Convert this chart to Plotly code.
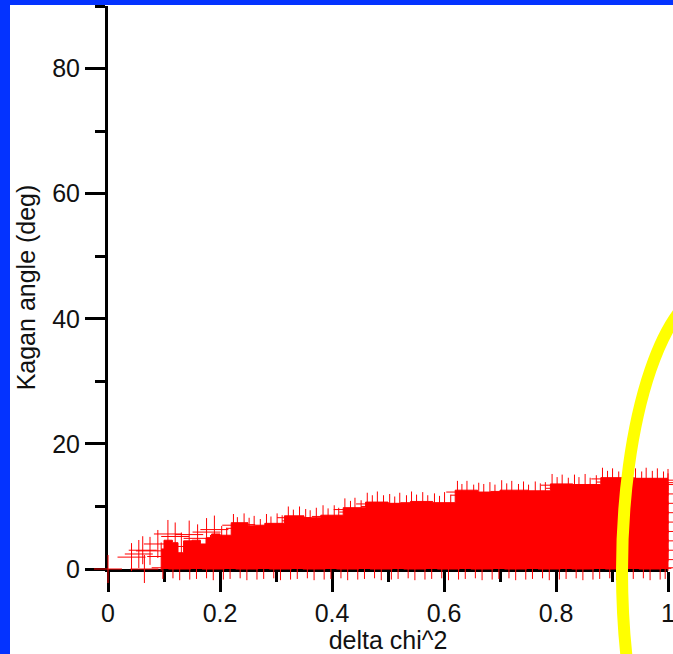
import plotly.graph_objects as go

# ---------------- data ----------------
# step envelope (upper edge) of the dense cloud of solutions
env_dchi2 = [0.095, 0.100, 0.115, 0.125, 0.135, 0.150, 0.165, 0.175, 0.185, 0.200,
             0.220, 0.250, 0.280, 0.315, 0.350, 0.380, 0.420, 0.460, 0.500, 0.540,
             0.580, 0.620, 0.660, 0.700, 0.750, 0.790, 0.830, 0.880, 0.940, 1.000]
env_kagan = [3.2, 4.6, 4.2, 2.6, 4.5, 4.6, 4.0, 5.0, 5.6, 5.4,
             7.4, 6.9, 7.3, 8.5, 8.2, 8.6, 9.8, 10.7, 10.5, 10.8,
             10.6, 12.6, 12.3, 12.6, 12.5, 13.6, 13.5, 14.6, 14.5, 14.6]

# isolated solutions at small delta chi^2
sparse_dchi2 = [0.0, 0.042, 0.055, 0.062, 0.065, 0.075, 0.089, 0.095, 0.107, 0.120,
                0.131, 0.145, 0.160, 0.176, 0.190, 0.183]
sparse_kagan = [0.0, 1.9, 2.4, 3.0, 0.0, 2.9, 4.0, 2.0, 5.6, 5.2,
                3.6, 5.5, 4.9, 5.9, 6.3, 3.2]

# solutions along the upper edge of the cloud
edge_dchi2 = [0.203, 0.212, 0.224, 0.231, 0.243, 0.252, 0.261, 0.272, 0.283, 0.291,
              0.302, 0.311, 0.322, 0.331, 0.342, 0.353, 0.361, 0.372, 0.384, 0.393,
              0.404, 0.412, 0.423, 0.433, 0.441, 0.452, 0.463, 0.472, 0.481, 0.492,
              0.503, 0.512, 0.521, 0.533, 0.542, 0.551, 0.562, 0.571, 0.583, 0.592,
              0.601, 0.612, 0.624, 0.632, 0.641, 0.653, 0.662, 0.671, 0.682, 0.691,
              0.703, 0.712, 0.721, 0.733, 0.742, 0.751, 0.763, 0.772, 0.781, 0.793,
              0.802, 0.811, 0.822, 0.833, 0.841, 0.852, 0.861, 0.872, 0.883, 0.892,
              0.901, 0.912, 0.923, 0.931, 0.942, 0.953, 0.961, 0.972, 0.981, 0.992, 1.000]
edge_kagan = [5.1, 4.8, 7.0, 6.5, 7.1, 6.4, 6.7, 6.2, 7.0, 6.6,
              7.1, 6.8, 8.2, 7.7, 8.2, 7.8, 7.6, 8.0, 8.4, 7.9,
              8.4, 8.0, 9.5, 9.1, 9.6, 9.2, 10.4, 10.0, 10.6, 10.0,
              10.2, 9.8, 10.4, 10.0, 10.6, 10.1, 10.5, 10.0, 10.3, 9.9,
              10.5, 10.1, 12.3, 11.8, 12.3, 11.7, 12.0, 11.8, 12.1, 11.7,
              12.4, 11.9, 12.3, 11.8, 12.2, 11.7, 12.2, 11.9, 12.1, 13.4,
              12.9, 13.3, 12.8, 13.3, 12.9, 13.4, 12.8, 13.2, 14.4, 13.9,
              14.3, 13.8, 14.4, 13.9, 14.3, 13.8, 14.4, 13.9, 14.3, 13.8, 14.2]

# solutions with near-zero Kagan angle
low_dchi2 = [0.098, 0.107, 0.116, 0.128, 0.137, 0.146, 0.158, 0.167, 0.176, 0.188,
             0.197, 0.206, 0.218, 0.227, 0.236, 0.248, 0.257, 0.266, 0.278, 0.287,
             0.296, 0.308, 0.317, 0.326, 0.338, 0.347, 0.356, 0.368, 0.377, 0.386,
             0.398, 0.407, 0.416, 0.428, 0.437, 0.446, 0.458, 0.467, 0.476, 0.488,
             0.497, 0.506, 0.518, 0.527, 0.536, 0.548, 0.557, 0.566, 0.578, 0.587,
             0.596, 0.608, 0.617, 0.626, 0.638, 0.647, 0.656, 0.668, 0.677, 0.686,
             0.698, 0.707, 0.716, 0.728, 0.737, 0.746, 0.758, 0.767, 0.776, 0.788,
             0.797, 0.806, 0.818, 0.827, 0.836, 0.848, 0.857, 0.866, 0.878, 0.887,
             0.896, 0.908, 0.917, 0.926, 0.938, 0.947, 0.956, 0.968, 0.977, 0.986, 0.995]
low_kagan = [0.2, -0.1, 0.3, 0.0, -0.2, 0.1, 0.2, -0.1, 0.3, 0.0,
             -0.2, 0.1, 0.2, -0.1, 0.3, 0.0, -0.2, 0.1, 0.2, -0.1,
             0.3, 0.0, -0.2, 0.1, 0.2, -0.1, 0.3, 0.0, -0.2, 0.1,
             0.2, -0.1, 0.3, 0.0, -0.2, 0.1, 0.2, -0.1, 0.3, 0.0,
             -0.2, 0.1, 0.2, -0.1, 0.3, 0.0, -0.2, 0.1, 0.2, -0.1,
             0.3, 0.0, -0.2, 0.1, 0.2, -0.1, 0.3, 0.0, -0.2, 0.1,
             0.2, -0.1, 0.3, 0.0, -0.2, 0.1, 0.2, -0.1, 0.3, 0.0,
             -0.2, 0.1, 0.2, -0.1, 0.3, 0.0, -0.2, 0.1, 0.2, -0.1,
             0.3, 0.0, -0.2, 0.1, 0.2, -0.1, 0.3, 0.0, -0.2, 0.1, 0.2]

# solutions at the largest delta chi^2
end_dchi2 = [1.0, 1.0, 1.0, 1.0, 1.0, 1.0, 1.0, 1.0, 1.0]
end_kagan = [1.5, 3.0, 4.5, 6.0, 7.5, 9.0, 10.5, 12.0, 13.5]

x_tickvals = [0, 0.2, 0.4, 0.6, 0.8, 1.0]
x_ticktext = ["0", "0.2", "0.4", "0.6", "0.8", "1"]
y_tickvals = [0, 20, 40, 60, 80]

# ---------------- layout constants ----------------
W, H = 673, 654
ML, MR, MT, MB = 108, 5, 6, 85
PW, PH = W - ML - MR, H - MT - MB
FONT = "Liberation Sans, Arial, sans-serif"
RED = "#ff0000"


def px_to_paper_x(px):
    return (px - ML) / PW


def px_to_paper_y(py):
    return (H - MB - py) / PH


fig = go.Figure()

fig.add_trace(go.Scatter(
    x=env_dchi2, y=env_kagan, mode="lines", line=dict(color=RED, width=1, shape="hv"),
    fill="tozeroy", fillcolor=RED, hoverinfo="skip", showlegend=False))

cross = dict(symbol="cross-thin", color=RED, line=dict(color=RED, width=1))
fig.add_trace(go.Scatter(x=sparse_dchi2, y=sparse_kagan, mode="markers",
                         marker=dict(size=20, **cross), cliponaxis=False, showlegend=False))
for xs, ys in ((edge_dchi2, edge_kagan), (low_dchi2, low_kagan), (end_dchi2, end_kagan)):
    fig.add_trace(go.Scatter(x=xs, y=ys, mode="markers",
                             marker=dict(size=16, **cross), cliponaxis=False, showlegend=False))

axis_common = dict(
    showline=True, linewidth=3, linecolor="black", mirror=False,
    ticks="outside", ticklen=20, tickwidth=3, tickcolor="black",
    showgrid=False, zeroline=False, layer="below traces",
    tickfont=dict(family=FONT, size=25, color="#111111"),
)

fig.update_xaxes(
    range=[0, 1.0], tickvals=x_tickvals, ticktext=x_ticktext, ticklabeloverflow="allow",
    minor=dict(dtick=0.1, tick0=0, ticklen=10, tickwidth=3, tickcolor="black", ticks="outside", showgrid=False),
    title=dict(text="delta chi^2", font=dict(family=FONT, size=25, color="#111111"), standoff=4),
    **axis_common)
fig.update_yaxes(
    range=[0, 90], tickvals=y_tickvals,
    minor=dict(dtick=10, tick0=0, ticklen=10, tickwidth=3, tickcolor="black", ticks="outside", showgrid=False),
    title=dict(text="Kagan angle (deg)", font=dict(family=FONT, size=25, color="#111111"), standoff=10),
    **axis_common)

BLUE = "#0433ff"
shapes = [
    # blue frame (left and top)
    dict(type="rect", xref="paper", yref="paper", x0=px_to_paper_x(0), x1=px_to_paper_x(10),
         y0=px_to_paper_y(H), y1=px_to_paper_y(0), fillcolor=BLUE, line=dict(width=0), layer="above"),
    dict(type="rect", xref="paper", yref="paper", x0=px_to_paper_x(0), x1=px_to_paper_x(W),
         y0=px_to_paper_y(5), y1=px_to_paper_y(0), fillcolor=BLUE, line=dict(width=0), layer="above"),
    # yellow highlight ellipse
    dict(type="circle", xref="paper", yref="paper",
         x0=px_to_paper_x(622), x1=px_to_paper_x(816),
         y0=px_to_paper_y(855), y1=px_to_paper_y(287),
         line=dict(color="#ffff00", width=12), fillcolor="rgba(0,0,0,0)", layer="above"),
]

fig.update_layout(
    width=W, height=H, margin=dict(l=ML, r=MR, t=MT, b=MB, autoexpand=False),
    paper_bgcolor="white", plot_bgcolor="white", showlegend=False,
    shapes=shapes, font=dict(family=FONT),
)

fig.write_html("out.html")
